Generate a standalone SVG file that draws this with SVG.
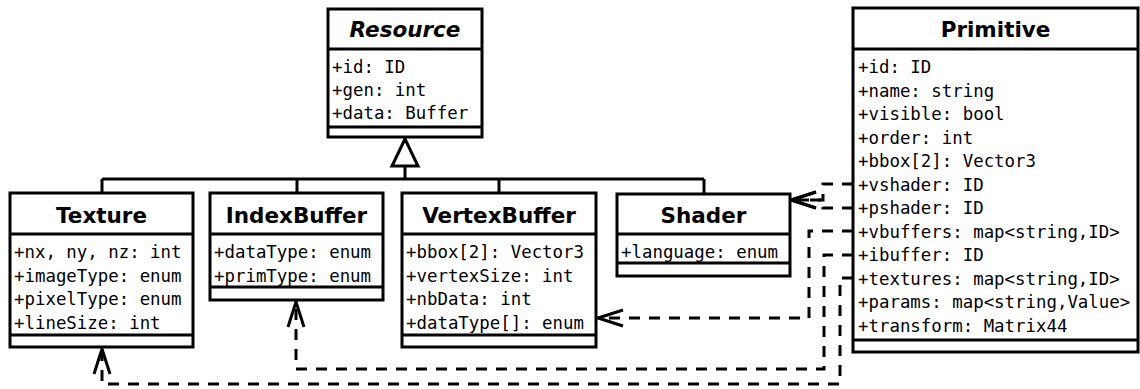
<svg xmlns="http://www.w3.org/2000/svg" width="1140" height="389" viewBox="0 0 1140 389">
<style>
.box{fill:#fff;stroke:#000;stroke-width:3}
.div{stroke:#000;stroke-width:3;fill:none}
.title{font-family:"DejaVu Sans",sans-serif;font-weight:bold;font-size:21.5px;text-anchor:middle;fill:#000}
.attr{font-family:"DejaVu Sans Mono",monospace;font-size:17.4px;fill:#000}
.gen{stroke:#000;stroke-width:3;fill:none}
.dep{stroke:#000;stroke-width:3;fill:none;stroke-dasharray:11,9;marker-end:url(#open)}
</style>
<defs>
<marker id="open" markerUnits="userSpaceOnUse" markerWidth="40" markerHeight="30" viewBox="-30 -15 40 30" refX="0" refY="0" orient="auto" overflow="visible">
<path d="M -25 -8 L 0 0 L -25 8" fill="none" stroke="#000" stroke-width="3"/>
</marker>
</defs>
<g id="connectors">
<polygon points="405,139 392,166 418,166" fill="#fff" stroke="#000" stroke-width="3"/>
<path class="gen" d="M405 166 V179 M102 179 H704 M102 179 V193 M297 179 V193 M499 179 V193 M704 179 V193"/>
<path class="dep" d="M853 184 H823 V200 H791"/>
<path class="dep" d="M853 208 H823 V200 H791"/>
<path class="dep" d="M853 231 H809 V318 H598"/>
<path class="dep" d="M853 255 H824 V369 H296 V302"/>
<path class="dep" d="M853 278 H840 V384 H102 V349"/>
</g>
<g id="Resource">
<rect class="box" x="328" y="9" width="154" height="128"/>
<path class="div" d="M328 49 H482 M328 127 H482"/>
<text class="title" x="405" y="37" font-style="italic">Resource</text>
<text class="attr" x="332" y="73">+id: ID</text>
<text class="attr" x="332" y="96">+gen: int</text>
<text class="attr" x="332" y="119">+data: Buffer</text>
</g>
<g id="Texture">
<rect class="box" x="10" y="193" width="183" height="154"/>
<path class="div" d="M10 234 H193 M10 335 H193"/>
<text class="title" x="101.5" y="223">Texture</text>
<text class="attr" x="14" y="258">+nx, ny, nz: int</text>
<text class="attr" x="14" y="281.5">+imageType: enum</text>
<text class="attr" x="14" y="305">+pixelType: enum</text>
<text class="attr" x="14" y="328.5">+lineSize: int</text>
</g>
<g id="IndexBuffer">
<rect class="box" x="210" y="193" width="173" height="107"/>
<path class="div" d="M210 234 H383 M210 287 H383"/>
<text class="title" x="296.5" y="223">IndexBuffer</text>
<text class="attr" x="214" y="258">+dataType: enum</text>
<text class="attr" x="214" y="281.5">+primType: enum</text>
</g>
<g id="VertexBuffer">
<rect class="box" x="402" y="193" width="194" height="154"/>
<path class="div" d="M402 234 H596 M402 335 H596"/>
<text class="title" x="499" y="223">VertexBuffer</text>
<text class="attr" x="406" y="258">+bbox[2]: Vector3</text>
<text class="attr" x="406" y="281.5">+vertexSize: int</text>
<text class="attr" x="406" y="305">+nbData: int</text>
<text class="attr" x="406" y="328.5">+dataType[]: enum</text>
</g>
<g id="Shader">
<rect class="box" x="617" y="194" width="173" height="82"/>
<path class="div" d="M617 234 H790 M617 263 H790"/>
<text class="title" x="703.5" y="223">Shader</text>
<text class="attr" x="621" y="258">+language: enum</text>
</g>
<g id="Primitive">
<rect class="box" x="853" y="8" width="285" height="344"/>
<path class="div" d="M853 49 H1138 M853 340 H1138"/>
<text class="title" x="995.5" y="37" font-size="22.5">Primitive</text>
<text class="attr" x="858" y="73">+id: ID</text>
<text class="attr" x="858" y="96.5">+name: string</text>
<text class="attr" x="858" y="120">+visible: bool</text>
<text class="attr" x="858" y="143.5">+order: int</text>
<text class="attr" x="858" y="167">+bbox[2]: Vector3</text>
<text class="attr" x="858" y="190.5">+vshader: ID</text>
<text class="attr" x="858" y="214">+pshader: ID</text>
<text class="attr" x="858" y="237.5">+vbuffers: map&lt;string,ID&gt;</text>
<text class="attr" x="858" y="261">+ibuffer: ID</text>
<text class="attr" x="858" y="284.5">+textures: map&lt;string,ID&gt;</text>
<text class="attr" x="858" y="308">+params: map&lt;string,Value&gt;</text>
<text class="attr" x="858" y="331.5">+transform: Matrix44</text>
</g>
</svg>
